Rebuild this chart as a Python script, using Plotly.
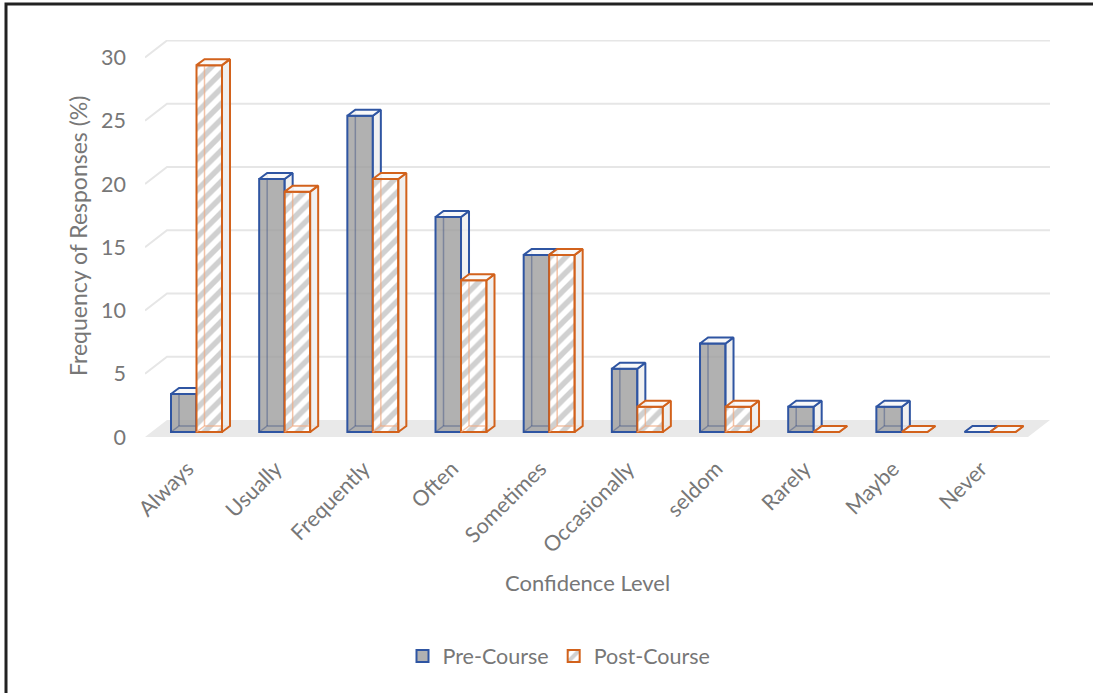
import plotly.graph_objects as go

categories = ["Always", "Usually", "Frequently", "Often", "Sometimes",
              "Occasionally", "seldom", "Rarely", "Maybe", "Never"]
pre_course = [3, 20, 25, 17, 14, 5, 7, 2, 2, 0]
post_course = [29, 19, 20, 12, 14, 2, 2, 0, 0, 0]
y_ticks = [0, 5, 10, 15, 20, 25, 30]

# ---- geometry (pixels) ----
W, H = 1093, 693
L, R, T, B = 145, 1050, 40, 437
PX = 88.17          # px per category
PY = 12.65          # px per y unit
X0 = -51.5 / PX
XR = [X0, X0 + (R - L) / PX]
Y0 = -(B - 432) / PY
YR = [Y0, Y0 + (B - T) / PY]
BW = 25.5 / PX              # bar width
DXB, DYB = 8 / PX, 6 / PY   # bar depth offset
DXW, DYW = 22 / PX, 17 / PY  # floor/wall depth
FRONT = Y0                   # front edge offset (data units)
LBL_SHIFT = -9 / PX

BLUE = "#2F55A2"
ORANGE = "#D2621C"
TXT = "#777777"
FONT = "Lato"
FS = 21.5

idx = list(range(len(categories)))


def px2paper(x, y):
    return (x - L) / (R - L), (B - y) / (B - T)


def faces(vals, off):
    top_x, top_y, side_x, side_y, hid_x, hid_y = [], [], [], [], [], []
    for i, v in zip(idx, vals):
        x0 = i + off
        x1 = x0 + BW
        top_x += [x0, x1, x1 + DXB, x0 + DXB, x0, None]
        top_y += [v, v, v + DYB, v + DYB, v, None]
        side_x += [x1, x1 + DXB, x1 + DXB, x1, x1, None]
        side_y += [0, DYB, v + DYB, v, 0, None]
        hid_x += [x0 + DXB, x0 + DXB, None, x0, x0 + DXB, x1 + DXB, None]
        hid_y += [v + DYB, DYB, None, 0, DYB, DYB, None]
    return top_x, top_y, side_x, side_y, hid_x, hid_y


fig = go.Figure()

# Pre-course (base subplot)
fig.add_trace(go.Bar(
    x=idx, y=pre_course, offset=-BW, width=BW, name="Pre-Course",
    marker=dict(color="rgba(158,158,158,0.8)", line=dict(color=BLUE, width=2)),
    xaxis="x", yaxis="y"))
tx, ty, sx, sy, hx, hy = faces(pre_course, -BW)
fig.add_trace(go.Scatter(x=hx, y=hy, mode="lines", showlegend=False, hoverinfo="skip",
                         line=dict(color="rgba(60,80,130,0.45)", width=1.5), xaxis="x", yaxis="y"))
fig.add_trace(go.Scatter(x=sx, y=sy, mode="lines", fill="toself", showlegend=False, hoverinfo="skip",
                         fillcolor="rgba(236,236,236,0.75)", line=dict(color=BLUE, width=2),
                         xaxis="x", yaxis="y"))
fig.add_trace(go.Scatter(x=tx, y=ty, mode="lines", fill="toself", showlegend=False, hoverinfo="skip",
                         fillcolor="rgba(248,248,248,0.85)", line=dict(color=BLUE, width=2),
                         xaxis="x", yaxis="y"))

# Post-course (overlay subplot, drawn above)
fig.add_trace(go.Bar(
    x=idx, y=post_course, offset=0, width=BW, name="Post-Course",
    marker=dict(color="white", line=dict(color=ORANGE, width=2),
                pattern=dict(shape="/", fgcolor="#a2a2a2", bgcolor="white",
                             size=11, solidity=0.5)),
    xaxis="x2", yaxis="y2"))
tx, ty, sx, sy, hx, hy = faces(post_course, 0)
fig.add_trace(go.Scatter(x=hx, y=hy, mode="lines", showlegend=False, hoverinfo="skip",
                         line=dict(color="rgba(240,170,130,0.7)", width=1.5), xaxis="x2", yaxis="y2"))
fig.add_trace(go.Scatter(x=sx, y=sy, mode="lines", fill="toself", showlegend=False, hoverinfo="skip",
                         fillcolor="rgba(236,236,236,0.8)", line=dict(color=ORANGE, width=2),
                         xaxis="x2", yaxis="y2"))
fig.add_trace(go.Scatter(x=tx, y=ty, mode="lines", fill="toself", showlegend=False, hoverinfo="skip",
                         fillcolor="rgba(250,250,250,0.9)", line=dict(color=ORANGE, width=2),
                         xaxis="x2", yaxis="y2"))

shapes = []
# floor
xfl, xbl = XR[0], XR[0] + DXW
xfr = X0 + (1028 - L) / PX
xbr = XR[1]
shapes.append(dict(type="path", xref="x", yref="y", layer="below",
                   path=f"M{xfl},{FRONT} L{xfr},{FRONT} L{xbr},{FRONT + DYW} L{xbl},{FRONT + DYW} Z",
                   fillcolor="#e9e9e9", line=dict(width=0)))
# back wall gridlines + side wall slants
for t in y_ticks[1:]:
    shapes.append(dict(type="path", xref="x", yref="y", layer="below",
                       path=f"M{xfl},{t + FRONT} L{xbl},{t + FRONT + DYW} L{xbr},{t + FRONT + DYW}",
                       line=dict(color="#e6e6e6", width=2)))
# outer frame
fx0, fy0 = px2paper(6, 4)
fx1, fy1 = px2paper(1110, 710)
shapes.append(dict(type="rect", xref="paper", yref="paper", x0=fx0, y0=fy1, x1=fx1, y1=fy0,
                   line=dict(color="#222222", width=3), fillcolor="rgba(0,0,0,0)"))

ax_x, ax_y = px2paper(587, 582)
ay_x, ay_y = px2paper(78, 236)
lg_x, lg_y = px2paper(559, 656)

fig.update_layout(
    width=W, height=H,
    margin=dict(l=L, r=W - R, t=T, b=H - B, autoexpand=False),
    paper_bgcolor="white", plot_bgcolor="rgba(0,0,0,0)",
    font=dict(family=FONT, color=TXT, size=FS),
    xaxis=dict(range=XR, tickvals=[i + LBL_SHIFT for i in idx], ticktext=categories, tickangle=-45,
               showgrid=False, zeroline=False, showline=False, ticks="",
               ticklabelstandoff=14, tickfont=dict(size=FS, color=TXT)),
    yaxis=dict(range=YR, tickvals=[t + FRONT for t in y_ticks], ticktext=[str(t) for t in y_ticks],
               showgrid=False, zeroline=False, showline=False, ticks="",
               ticklabelstandoff=18, tickfont=dict(size=FS, color=TXT)),
    xaxis2=dict(range=XR, overlaying="x", visible=False),
    yaxis2=dict(range=YR, overlaying="y", visible=False),
    shapes=shapes,
    annotations=[
        dict(text="Confidence Level", xref="paper", yref="paper", x=ax_x, y=ax_y,
             showarrow=False, font=dict(size=22, color=TXT), xanchor="center", yanchor="middle"),
        dict(text="Frequency of Responses (%)", xref="paper", yref="paper", x=ay_x, y=ay_y,
             showarrow=False, textangle=-90, font=dict(size=23, color=TXT),
             xanchor="center", yanchor="middle"),
    ],
    legend=dict(orientation="h", x=lg_x, y=lg_y, xanchor="center", yanchor="middle",
                font=dict(size=FS, color=TXT), traceorder="normal"),
    showlegend=True,
)

fig.write_html("out.html")
